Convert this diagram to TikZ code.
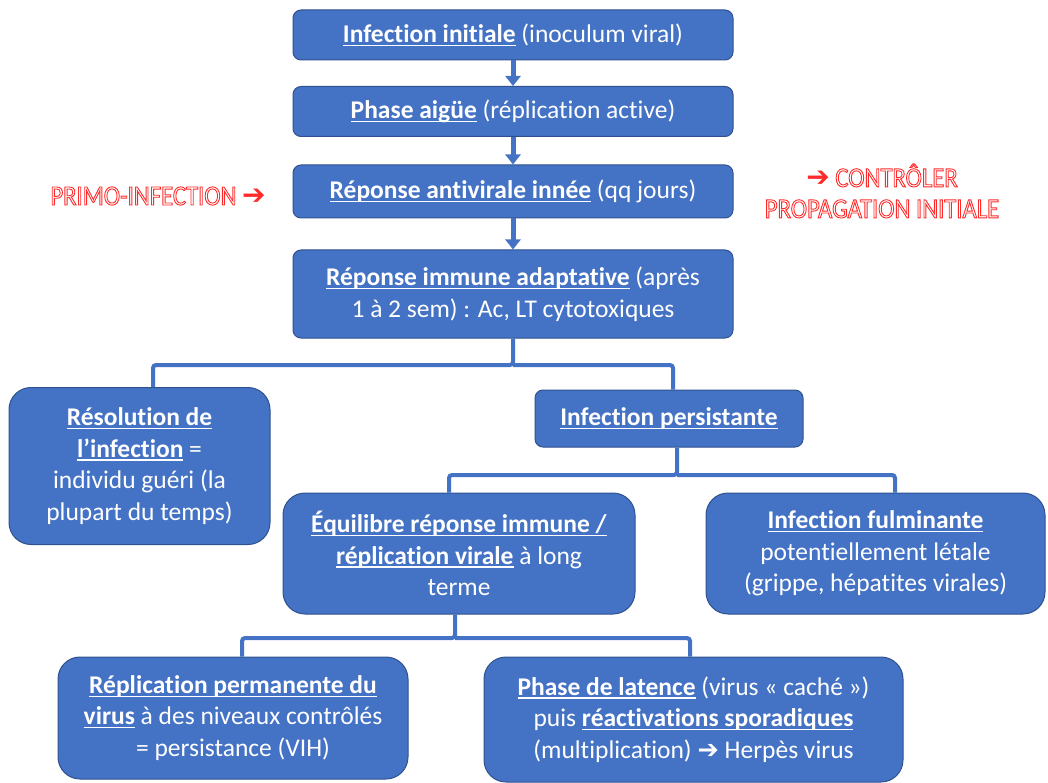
\documentclass[tikz,border=0pt]{standalone}
\usepackage{fontspec}
\setmainfont[Ligatures=NoCommon]{Carlito}
\newfontfamily\symf{DejaVu Sans}
\newfontfamily\deco[FakeStretch=0.88,Ligatures=NoCommon]{Carlito}
\usetikzlibrary{arrows.meta,calc}
\definecolor{boxblue}{HTML}{4472C4}
\definecolor{boxedge}{HTML}{2F528F}
\definecolor{redtxt}{HTML}{FF2A2A}
\newcommand\ub[1]{\setbox0\hbox{\textbf{#1}}\rlap{\rule[-3.5pt]{\wd0}{1.4pt}}\box0\relax}
\newcommand\rarr{{\symf\char"2794}}
\newcommand\outl[1]{\special{pdf:literal direct 1 Tr 0.9 w}#1\special{pdf:literal direct 0 Tr}}
\tikzset{
  box/.style={draw=boxedge, line width=1pt, fill=boxblue, text=white, align=center,
    font=\fontsize{25.5}{31.5}\selectfont, inner sep=0pt},
  smallbox/.style={box, rounded corners=8pt},
  bigbox/.style={box, rounded corners=22pt},
  conn/.style={draw=boxblue, line width=4pt, rounded corners=3pt},
  downarrow/.style={draw=boxblue, line width=5pt, -{Triangle[width=15pt,length=10pt]}},
  redlabel/.style={text=redtxt, font=\deco\fontsize{28}{31}\selectfont, align=center, inner sep=0pt}
}
\begin{document}
\begin{tikzpicture}[x=1pt,y=-1pt]
\useasboundingbox (0,0) rectangle (1048,783);

\node[smallbox, minimum width=440, minimum height=50] (b1) at (513,35)
  {\ub{Infection initiale} (inoculum viral)};
\node[smallbox, minimum width=440, minimum height=50] (b2) at (513,111.5)
  {\ub{Phase aigüe} (réplication active)};
\node[smallbox, minimum width=440, minimum height=53] (b3) at (513,191.5)
  {\ub{Réponse antivirale innée} (qq jours)};
\node[smallbox, minimum width=440, minimum height=88] (b4) at (513,294)
  {\ub{Réponse immune adaptative} (après\\1 à 2 sem) : Ac, LT cytotoxiques};

\node[bigbox, minimum width=261, minimum height=157] (res) at (139.5,466)
  {\ub{Résolution de}\\\ub{l’infection} =\\individu guéri (la\\plupart du temps)};
\node[smallbox, minimum width=268, minimum height=57] (pers) at (669,418.5)
  {\ub{Infection persistante}};
\node[bigbox, minimum width=352, minimum height=121] (equ) at (459,553.5)
  {\ub{Équilibre réponse immune /}\\\ub{réplication virale} à long\\terme};
\node[bigbox, minimum width=339, minimum height=121] (ful) at (875.5,553.5)
  {\ub{Infection fulminante}\\potentiellement létale\\(grippe, hépatites virales)};
\node[bigbox, minimum width=350, minimum height=122] (rep) at (233,718)
  {\ub{Réplication permanente du}\\\ub{virus} à des niveaux contrôlés\\= persistance (VIH)};
\node[bigbox, minimum width=419, minimum height=125] (lat) at (693.5,719.5)
  {\ub{Phase de latence} (virus « caché »)\\puis \ub{réactivations sporadiques}\\(multiplication) \rarr\ Herpès virus};

\node[redlabel] (primo) at (158,196) {\outl{PRIMO-INFECTION} \rarr};
\node[redlabel] (ctrl) at (882,191) {\rarr\ \outl{CONTRÔLER}\\\outl{PROPAGATION INITIALE}};

\draw[downarrow] (b1.south) -- (b2.north);
\draw[downarrow] (b2.south) -- (b3.north);
\draw[downarrow] (b3.south) -- (b4.north);

\coordinate (j1) at (513,365);
\draw[conn] (b4.south) -- (j1) -| ([xshift=13.5pt]res.north);
\draw[conn] (j1) -| ([xshift=4pt]pers.north);

\coordinate (j2) at ([xshift=8pt]pers.south |- 0,475);
\draw[conn] ([xshift=8pt]pers.south) -- (j2) -| ([xshift=-10pt]equ.north);
\draw[conn] (j2) -| ([xshift=19.5pt]ful.north);

\coordinate (j3) at ([xshift=-4pt]equ.south |- 0,638);
\draw[conn] ([xshift=-4pt]equ.south) -- (j3) -| ([xshift=9pt]rep.north);
\draw[conn] (j3) -| ([xshift=-3.5pt]lat.north);
\end{tikzpicture}
\end{document}
